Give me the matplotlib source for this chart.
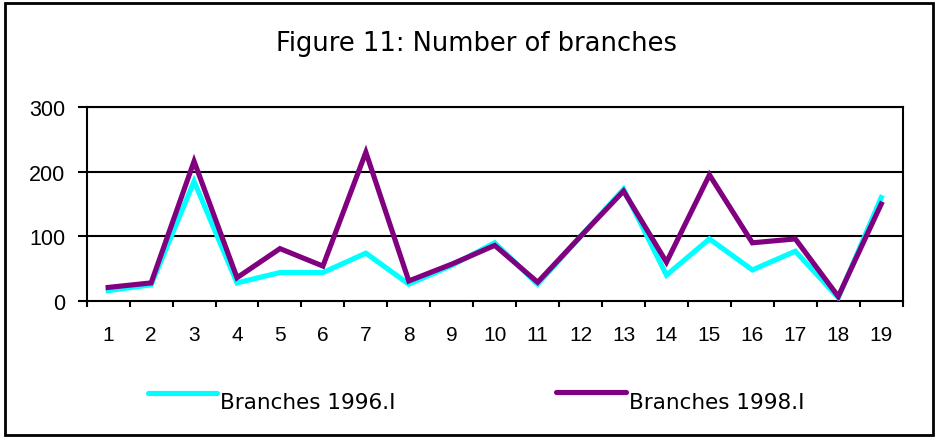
import matplotlib
matplotlib.use("Agg")
import matplotlib.pyplot as plt
from matplotlib.lines import Line2D
from matplotlib.patches import Rectangle

categories = [str(i) for i in range(1, 20)]
branches_1996 = [16, 25, 185, 28, 44, 44, 74, 26, 55, 90, 26, 100, 173, 40, 96, 48, 77, 5, 160]
branches_1998 = [21, 28, 216, 36, 81, 54, 230, 31, 57, 86, 29, 100, 170, 60, 195, 90, 96, 7, 150]
y_ticks = [0, 100, 200, 300]
series_labels = ["Branches 1996.I", "Branches 1998.I"]
title = "Figure 11: Number of branches"

W, H = 936, 439
fig = plt.figure(figsize=(W / 100, H / 100), dpi=100)
fig.patch.set_facecolor("white")

def fx(px):
    return px / W

def fy(py):
    return 1 - py / H

ax = fig.add_axes([fx(86.7), fy(302), fx(902.7) - fx(86.7), fy(108) - fy(302)])

x = list(range(1, len(categories) + 1))
ax.plot(x, branches_1996, color="#00FFFF", lw=3.7, solid_joinstyle="miter", zorder=3)
ax.plot(x, branches_1998, color="#800080", lw=3.7, solid_joinstyle="miter", zorder=4)

ax.set_xlim(0.5, len(categories) + 0.5)
ax.set_ylim(0, 300)
ax.set_yticks(y_ticks)
ax.set_yticklabels([str(v) for v in y_ticks], fontfamily="Liberation Sans", fontsize=15.5)
for v in y_ticks[1:]:
    ax.axhline(v, color="black", lw=1.5, zorder=1)

ax.set_xticks([i + 0.5 for i in range(0, len(categories) + 1)])
ax.set_xticklabels([])
ax.set_xticks(x, minor=True)
ax.set_xticklabels(categories, minor=True, fontfamily="Liberation Sans", fontsize=15)
ax.tick_params(axis="x", which="major", length=4.5, width=1.5, direction="out")
ax.tick_params(axis="x", which="minor", length=0, pad=17)
ax.tick_params(axis="y", length=6.3, width=1.5, direction="out", pad=9)
for s in ax.spines.values():
    s.set_linewidth(1.5)
    s.set_color("black")

fig.text(fx(476.5), fy(44), title, ha="center", va="center",
         fontfamily="DejaVu Sans", fontsize=18.5)

# legend
leg_colors = ["#00FFFF", "#800080"]
leg_lines = [(148, 217, 394), (556, 626, 393)]
for (x0, x1, yy), c, lab in zip(leg_lines, leg_colors, series_labels):
    fig.add_artist(Line2D([fx(x0), fx(x1)], [fy(yy), fy(yy)], color=c, lw=3.7,
                          solid_capstyle="round", transform=fig.transFigure))
    fig.text(fx(x1 + 3), fy(403), lab, ha="left", va="center",
             fontfamily="DejaVu Sans", fontsize=15.5)

fig.add_artist(Rectangle((fx(5), fy(436)), fx(933) - fx(5), fy(4) - fy(436),
                         fill=False, edgecolor="black", lw=2, transform=fig.transFigure))

fig.savefig("out.png", dpi=100)
